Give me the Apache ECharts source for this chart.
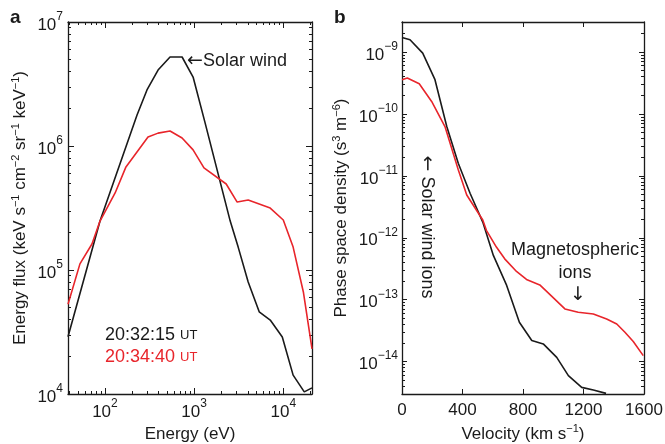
<!DOCTYPE html>
<html>
<head>
<meta charset="utf-8">
<script src="https://cdn.jsdelivr.net/npm/echarts@6/dist/echarts.min.js"></script>
<style>
  html, body { margin: 0; padding: 0; background: #fff; }
  #main { width: 665px; height: 444px; }
</style>
</head>
<body>
<div id="main"></div>
<script>
// panel a - energy spectra (eV, keV s-1 cm-2 sr-1 keV-1)
var energyBlack = [38.5, 88, 229, 296, 394, 537, 733, 974, 1330, 2540, 3120, 4040, 5370, 7140, 9750, 12900, 17200, 21000];
var fluxBlack = [2.9e4, 2.48e5, 1.78e6, 2.83e6, 4.1e6, 5.22e6, 5.22e6, 3.6e6, 1.53e6, 2.48e5, 1.53e5, 8.0e4, 4.6e4, 3.95e4, 2.88e4, 1.42e4, 1.04e4, 1.12e4];
var energyRed = [38.5, 52.4, 71.5, 88, 130, 172, 304, 394, 537, 733, 974, 1290, 2290, 3040, 4040, 7140, 10000, 12900, 16800, 21000];
var fluxRed = [5.3e4, 1.12e5, 1.62e5, 2.48e5, 4.18e5, 6.78e5, 1.18e6, 1.27e6, 1.32e6, 1.16e6, 9.3e5, 6.66e5, 4.94e5, 3.53e5, 3.67e5, 3.16e5, 2.53e5, 1.53e5, 6.65e4, 2.31e4];

// panel b - phase space density (km s-1, s3 m-6)
var velBlack = [0, 53, 137, 218, 296, 372, 450, 534, 604, 692, 776, 858, 934, 1023, 1100, 1188, 1265, 1349];
var psdBlack = [1.72e-9, 1.58e-9, 9.6e-10, 3.57e-10, 6.25e-11, 1.6e-11, 5.23e-12, 1.79e-12, 5.19e-13, 1.70e-13, 4.33e-14, 2.19e-14, 1.93e-14, 1.17e-14, 5.93e-15, 3.84e-15, 3.47e-15, 3.07e-15];
var velRed = [0, 35, 114, 196, 284, 372, 428, 534, 558, 624, 679, 757, 823, 911, 989, 1077, 1165, 1265, 1353, 1420, 1474, 1529, 1595];
var psdRed = [3.57e-10, 3.8e-10, 3.07e-10, 1.59e-10, 6.25e-11, 1.25e-11, 4.91e-12, 1.94e-12, 1.32e-12, 7.08e-13, 4.57e-13, 2.86e-13, 2.12e-13, 1.73e-13, 1.14e-13, 7.10e-14, 6.28e-14, 5.89e-14, 4.89e-14, 4.06e-14, 2.98e-14, 2.11e-14, 1.25e-14];

// tick labels
var energyTicks = [100, 1000, 10000];
var fluxTicks = [1e4, 1e5, 1e6, 1e7];
var velTicks = [0, 400, 800, 1200, 1600];
var psdTicks = [1e-14, 1e-13, 1e-12, 1e-11, 1e-10, 1e-9];

var FONT = "'Liberation Sans', Arial, sans-serif";
var ARROW_FONT = "'DejaVu Sans', sans-serif";
var BLACK = '#1a1a1a';
var RED = '#e8252b';

// 2..9 times each decade, for the small log ticks
function minorLog(lo, hi) {
  var out = [];
  for (var e = Math.floor(Math.log10(lo)); e <= Math.ceil(Math.log10(hi)); e++) {
    for (var k = 2; k <= 9; k++) {
      var v = k * Math.pow(10, e);
      if (v >= lo && v <= hi) out.push(v);
    }
  }
  return out;
}

function pairs(xs, ys) {
  return xs.map(function (x, i) { return [x, ys[i]]; });
}

function supLabel(v) {
  var e = Math.round(Math.log10(v));
  return '{b|10}{sup|' + (e < 0 ? '\u2212' + (-e) : e) + '}';
}

var labelRich = {
  b: { fontSize: 17, fontFamily: FONT, color: BLACK, lineHeight: 23, verticalAlign: 'bottom' },
  sup: { fontSize: 12, fontFamily: FONT, color: BLACK, lineHeight: 23, verticalAlign: 'top' }
};
var nameRich = {
  sup: { fontSize: 11, fontFamily: FONT, color: BLACK, lineHeight: 20, verticalAlign: 'top' }
};

// one axis, used both for the framed axes and the bare tick rows
function ax(o) {
  var a = {
    type: o.type,
    gridIndex: o.grid,
    position: o.pos,
    min: o.min,
    max: o.max,
    silent: true,
    axisLine: { show: !!o.line, onZero: false, lineStyle: { color: BLACK, width: 1.3 } },
    axisTick: { show: !!o.ticks, inside: true, length: o.len || 5, lineStyle: { color: BLACK, width: 1 } },
    axisLabel: { show: !!o.labels },
    splitLine: { show: false }
  };
  if (o.ticks && o.ticks !== true) a.axisTick.customValues = o.ticks;
  if (o.interval) a.interval = o.interval;
  if (o.labels) {
    a.axisLabel = {
      show: true,
      margin: o.margin || 6,
      fontSize: 17,
      fontFamily: FONT,
      color: BLACK,
      showMinLabel: true,
      showMaxLabel: true,
      customValues: o.labels
    };
    if (o.type === 'log') {
      a.axisLabel.formatter = supLabel;
      a.axisLabel.rich = labelRich;
    } else {
      a.axisLabel.formatter = function (v) { return String(v); };
    }
  }
  if (o.name) {
    a.name = o.name;
    a.nameLocation = 'middle';
    a.nameGap = o.gap;
    a.nameTextStyle = { fontSize: 17, fontFamily: FONT, color: BLACK, rich: nameRich };
  }
  return a;
}

var eMin = 38.5, eMax = 21000, fMin = 1e4, fMax = 1e7;
var vMin = 0, vMax = 1600, pMin = 3e-15, pMax = 3.05e-9;

var dom = document.getElementById('main');
var myChart = echarts.init(dom, null, { renderer: 'canvas' });

var arrowRich = function (color) {
  return { a: { fontSize: 19, fontFamily: ARROW_FONT, fill: color } };
};

var option = {
  animation: false,
  backgroundColor: '#fff',
  grid: [
    { left: 68, top: 22, width: 244, height: 372, outerBoundsMode: 'none' },
    { left: 402, top: 22, width: 242, height: 372, outerBoundsMode: 'none' }
  ],
  xAxis: [
    ax({ type: 'log', grid: 0, pos: 'bottom', min: eMin, max: eMax, line: true, ticks: energyTicks, len: 6, labels: energyTicks, margin: 4, name: 'Energy (eV)', gap: 28 }),
    ax({ type: 'log', grid: 0, pos: 'bottom', min: eMin, max: eMax, ticks: minorLog(eMin, eMax), len: 3 }),
    ax({ type: 'log', grid: 0, pos: 'top', min: eMin, max: eMax, line: true, ticks: energyTicks, len: 6 }),
    ax({ type: 'log', grid: 0, pos: 'top', min: eMin, max: eMax, ticks: minorLog(eMin, eMax), len: 3 }),
    ax({ type: 'value', grid: 1, pos: 'bottom', min: vMin, max: vMax, interval: 400, line: true, ticks: true, len: 5, labels: velTicks, margin: 8, name: 'Velocity (km s{sup|\u22121})', gap: 27 }),
    ax({ type: 'value', grid: 1, pos: 'top', min: vMin, max: vMax, interval: 400, line: true, ticks: true, len: 5 })
  ],
  yAxis: [
    ax({ type: 'log', grid: 0, pos: 'left', min: fMin, max: fMax, line: true, ticks: fluxTicks, len: 6, labels: fluxTicks, margin: 5, name: 'Energy flux (keV s{sup|\u22121} cm{sup|\u22122} sr{sup|\u22121} keV{sup|\u22121})', gap: 38 }),
    ax({ type: 'log', grid: 0, pos: 'left', min: fMin, max: fMax, ticks: minorLog(fMin, fMax), len: 3 }),
    ax({ type: 'log', grid: 0, pos: 'right', min: fMin, max: fMax, line: true, ticks: fluxTicks, len: 6 }),
    ax({ type: 'log', grid: 0, pos: 'right', min: fMin, max: fMax, ticks: minorLog(fMin, fMax), len: 3 }),
    ax({ type: 'log', grid: 1, pos: 'left', min: pMin, max: pMax, line: true, ticks: psdTicks, len: 5, labels: psdTicks, margin: 4, name: 'Phase space density (s{sup|3} m{sup|\u22126})', gap: 51 }),
    ax({ type: 'log', grid: 1, pos: 'left', min: pMin, max: pMax, ticks: minorLog(pMin, pMax), len: 3 }),
    ax({ type: 'log', grid: 1, pos: 'right', min: pMin, max: pMax, line: true, ticks: psdTicks, len: 5 }),
    ax({ type: 'log', grid: 1, pos: 'right', min: pMin, max: pMax, ticks: minorLog(pMin, pMax), len: 3 })
  ],
  series: [
    { type: 'line', xAxisIndex: 0, yAxisIndex: 0, data: pairs(energyBlack, fluxBlack), showSymbol: false, clip: true, lineStyle: { color: BLACK, width: 1.6 } },
    { type: 'line', xAxisIndex: 0, yAxisIndex: 0, data: pairs(energyRed, fluxRed), showSymbol: false, clip: true, lineStyle: { color: RED, width: 1.6 } },
    { type: 'line', xAxisIndex: 4, yAxisIndex: 4, data: pairs(velBlack, psdBlack), showSymbol: false, clip: true, lineStyle: { color: BLACK, width: 1.6 } },
    { type: 'line', xAxisIndex: 4, yAxisIndex: 4, data: pairs(velRed, psdRed), showSymbol: false, clip: true, lineStyle: { color: RED, width: 1.6 } }
  ],
  graphic: [
    { type: 'text', x: 10, y: 8, style: { text: 'a', font: 'bold 19px ' + FONT, fill: BLACK } },
    { type: 'text', x: 334, y: 8, style: { text: 'b', font: 'bold 19px ' + FONT, fill: BLACK } },
    { type: 'text', x: 187, y: 61, style: { text: '{a|\u2190}Solar wind', font: '18px ' + FONT, fill: BLACK, textVerticalAlign: 'middle', rich: arrowRich(BLACK) } },
    { type: 'text', x: 105, y: 335, style: { text: '20:32:15 {s|UT}', font: '18px ' + FONT, fill: BLACK, textVerticalAlign: 'middle',
      rich: { s: { fontSize: 13, fontFamily: FONT, fill: BLACK } } } },
    { type: 'text', x: 105, y: 357, style: { text: '20:34:40 {s|UT}', font: '18px ' + FONT, fill: RED, textVerticalAlign: 'middle',
      rich: { s: { fontSize: 13, fontFamily: FONT, fill: RED } } } },
    { type: 'text', x: 427, y: 227, rotation: -Math.PI / 2, style: { text: '{a|\u2190} Solar wind ions', font: '18px ' + FONT, fill: BLACK, textAlign: 'center', textVerticalAlign: 'middle', rich: arrowRich(BLACK) } },
    { type: 'text', x: 575, y: 250, style: { text: 'Magnetospheric', font: '18px ' + FONT, fill: BLACK, textAlign: 'center', textVerticalAlign: 'middle' } },
    { type: 'text', x: 575, y: 273, style: { text: 'ions', font: '18px ' + FONT, fill: BLACK, textAlign: 'center', textVerticalAlign: 'middle' } },
    { type: 'text', x: 578, y: 295, style: { text: '\u2193', font: '19px ' + ARROW_FONT, fill: BLACK, textAlign: 'center', textVerticalAlign: 'middle' } }
  ]
};

if (option && typeof option === 'object') {
  myChart.setOption(option);
}

window.addEventListener('resize', myChart.resize);
</script>
</body>
</html>
